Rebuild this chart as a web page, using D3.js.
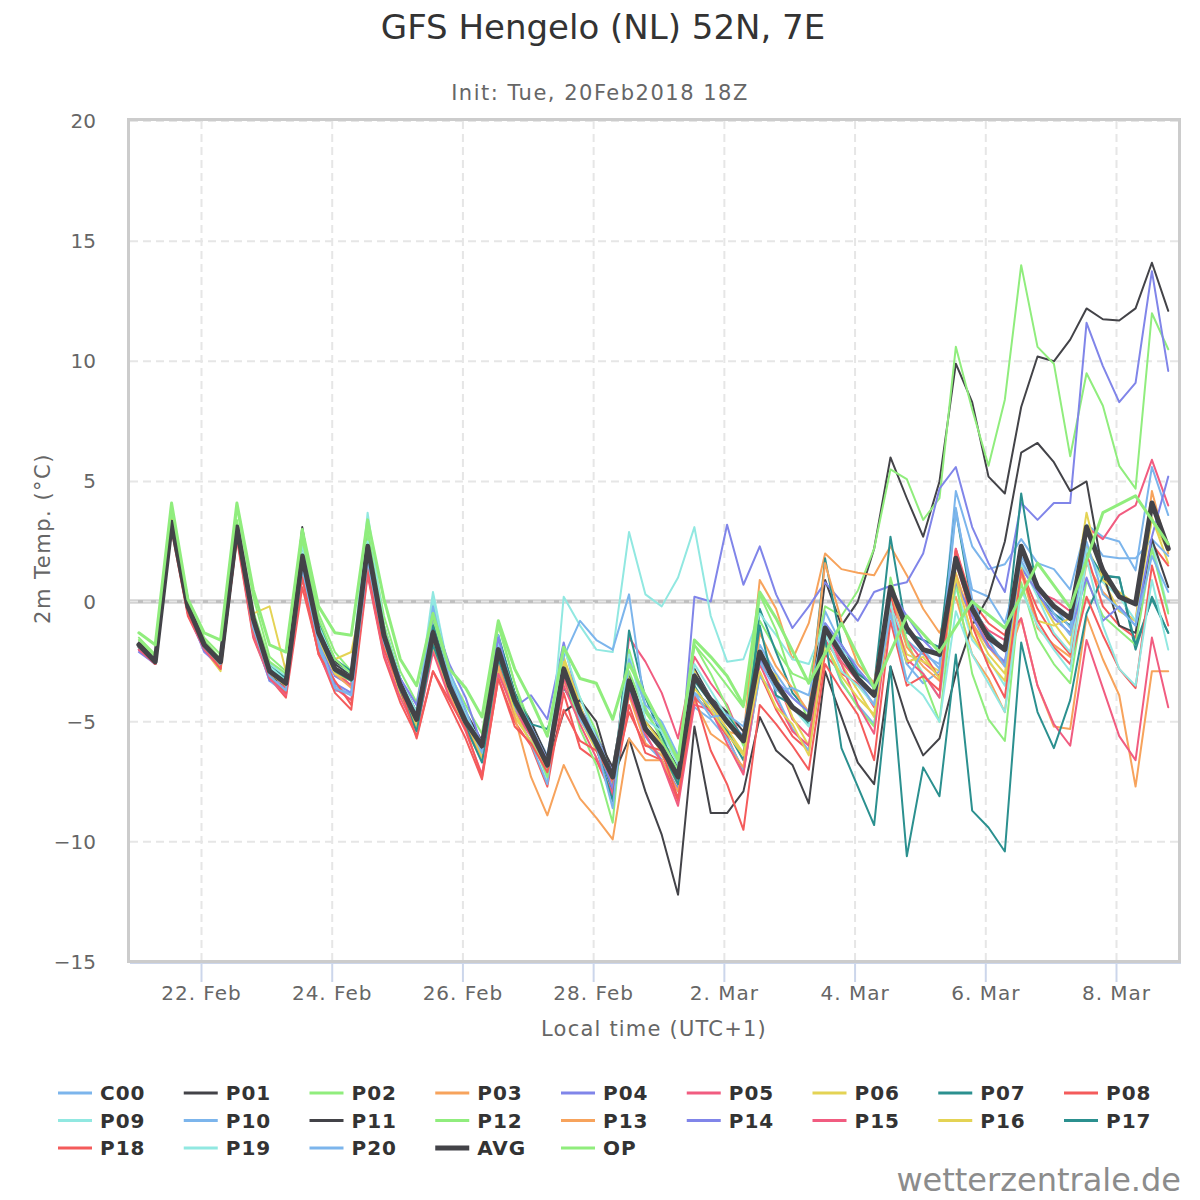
<!DOCTYPE html>
<html>
<head>
<meta charset="utf-8">
<script src="https://cdn.jsdelivr.net/npm/d3@7"></script>
<style>
  body { margin: 0; background: #fff; }
  text { font-family: "DejaVu Sans", Verdana, sans-serif; }
</style>
</head>
<body>
<svg id="chart" width="1200" height="1200"></svg>
<script>
// ---- data (2m temperature, degC, 6-hourly, first value 21 Feb 01:00 local) ----
const memberNames = ['C00','P01','P02','P03','P04','P05','P06','P07','P08','P09','P10',
                     'P11','P12','P13','P14','P15','P16','P17','P18','P19','P20'];

const C00 = [-1.9,-2.6,3.2,-0.3, -1.9,-2.6,3.0,-1.0, -3.1,-3.6,1.5,-1.9, -3.7,-3.8,2.0,-1.7, -3.3,-4.6,-0.8,-3.2, -4.8,-6.1,-1.8,-3.8, -5.1,-6.4,-2.6,-4.5, -5.5,-7.6,-3.5,-5.9, -6.6,-7.9,-3.8,-4.3, -5.5,-6.3,-1.8,-3.0, -4.0,-4.6,-0.4,-1.8, -2.9,-3.6,0.2,-1.6, -2.2,-2.6,4.6,2.3, 1.35,1.55,2.6,1.6, 1.35,0.5,3.2,2.7, 2.5,1.3,5.6,3.6];
const P01 = [-1.7,-2.4,3.4,-0.1, -1.7,-2.4,3.2,-0.6, -2.6,-3.2,3.1,-1.0, -2.5,-3.0,2.4,-1.2, -3.2,-4.6,-1.0,-3.3, -4.6,-5.8,-1.5,-3.8, -5.0,-6.5,-3.2,-4.8, -5.6,-6.9,-3.0,-5.0, -5.8,-6.9,-2.8,-4.0, -4.6,-5.4,-2.3,-3.6, -4.4,-4.8,0.9,-1.0, 0.0,2.2,6.0,4.3, 2.7,5.0,9.9,8.3, 5.2,4.5,8.1,10.2, 10.0,10.9,12.2,11.75, 11.7,12.2,14.1,12.1];
const P02 = [-1.5,-2.2,3.9,0.0, -1.5,-2.2,3.9,0.2, -2.3,-2.9,2.8,-0.5, -2.1,-2.9,3.0,-0.6, -2.9,-4.2,-0.7,-3.0, -4.3,-5.5,-1.0,-3.4, -5.2,-6.6,-2.5,-4.0, -5.4,-7.6,-2.9,-4.6, -5.6,-6.5,-1.8,-2.6, -3.5,-4.4,-0.8,-2.0, -3.0,-3.3,-0.2,-0.6, 0.45,2.2,5.5,5.1, 3.4,4.3,10.6,8.0, 5.65,8.4,14.0,10.6, 9.9,6.05,9.5,8.15, 5.65,4.7,12.0,10.5];
const P03 = [-1.9,-2.4,3.1,-0.4, -1.9,-2.7,2.9,-1.2, -2.8,-3.5,1.4,-1.6, -2.9,-3.5,2.0,-1.7, -3.8,-5.2,-1.9,-3.9, -5.2,-6.4,-2.6,-4.5, -5.3,-6.9,-3.3,-4.9, -6.0,-7.6,-3.9,-5.9, -6.4,-7.6,-3.9,-4.6, -5.4,-5.6,0.9,-0.3, -2.4,-0.9,2.0,1.35, 1.2,1.1,2.3,1.1, -0.3,-1.3,0.2,-2.2, -3.2,-4.6,1.2,-1.1, -1.8,-2.3,1.6,0.4, -0.3,-0.8,4.6,2.0];
const P04 = [-2.0,-2.6,3.3,-0.3, -2.0,-2.6,3.0,-0.9, -3.0,-3.6,1.7,-1.6, -3.1,-3.5,2.1,-1.5, -3.6,-5.1,-1.4,-3.3, -4.7,-6.1,-1.9,-4.4, -3.9,-4.9,-1.7,-4.4, -5.6,-7.1,-3.6,-5.6, -6.6,-7.8,0.2,0.0, 3.2,0.7,2.3,0.3, -1.1,-0.2,0.8,0.0, -0.8,0.4,0.65,0.8, 2.0,4.7,5.6,3.1, 1.6,0.4,4.1,3.4, 4.1,4.1,11.6,9.8, 8.3,9.1,13.75,9.6];
const P05 = [-1.8,-2.5,3.2,-0.3, -1.8,-2.6,3.0,-1.0, -3.0,-3.6,1.6,-1.5, -2.9,-3.5,2.0,-1.7, -3.8,-5.0,-1.7,-3.6, -5.2,-6.6,-2.7,-4.4, -5.6,-7.0,-3.2,-4.9, -6.1,-7.6,-1.5,-2.5, -3.8,-5.7,-2.3,-3.4, -4.3,-5.9,-2.6,-3.2, -4.9,-5.6,-1.3,-2.5, -3.3,-4.4,0.2,-1.6, -2.5,-3.1,1.6,-0.6, -1.8,-2.6,2.2,0.4, 0.1,-0.4,3.1,2.6, 3.6,4.0,5.9,4.0];
const P06 = [-1.9,-2.6,3.1,-0.4, -2.0,-2.9,3.0,-0.5, -0.2,-2.9,1.4,-1.2, -2.4,-2.1,1.2,-1.7, -3.6,-5.1,-1.7,-3.8, -5.3,-6.6,-2.8,-4.8, -5.8,-7.2,-2.3,-4.3, -6.2,-7.7,-3.8,-5.0, -5.9,-6.5,-2.9,-4.3, -5.3,-6.3,-2.5,-3.1, -4.8,-6.0,-1.6,-2.6, -3.7,-4.8,-0.3,-2.2, -2.5,-2.9,1.2,-0.9, -2.2,-3.0,1.6,0.3, -0.9,-1.8,2.3,0.9, -0.4,-0.8,3.5,1.6];
const P07 = [-1.8,-2.5,3.3,-0.1, -1.8,-2.5,3.1,-0.6, -2.7,-3.2,2.4,-0.9, -2.4,-2.9,2.6,-1.0, -3.2,-4.7,-1.0,-3.3, -4.9,-6.1,-1.4,-3.8, -5.1,-5.3,-3.6,-4.6, -6.0,-7.9,-1.2,-4.0, -5.6,-7.1,-3.5,-4.6, -5.4,-6.6,-0.3,-2.1, -3.8,-4.6,1.8,-1.8, -3.0,-3.5,2.7,-1.3, -1.6,-1.9,3.8,-0.2, -1.3,-2.0,4.5,0.3, -0.5,-1.0,2.1,1.1, 1.0,-2.0,0.2,-1.3];
const P08 = [-2.0,-2.6,3.0,-0.6, -2.0,-2.7,2.6,-1.5, -3.2,-4.0,0.6,-2.1, -3.8,-4.5,1.1,-2.3, -4.2,-5.6,-2.9,-4.3, -5.7,-7.4,-3.2,-5.0, -6.0,-7.7,-3.8,-6.1, -6.6,-8.1,-4.3,-6.3, -6.6,-8.3,-4.0,-4.6, -5.6,-7.1,-3.0,-4.5, -5.6,-6.2,-2.2,-3.0, -3.4,-4.3,0.3,-2.6, -2.1,-3.2,2.2,0.0, -0.9,-1.4,1.3,-0.3, -1.4,-2.2,2.0,-0.2, -1.0,-1.5,2.4,1.5];
const P09 = [-1.8,-2.4,3.5,-0.1, -1.8,-2.5,3.3,-0.5, -2.6,-3.1,2.4,-1.0, -2.6,-3.0,3.7,-1.0, -3.2,-4.6,0.4,-3.0, -4.7,-6.0,-1.7,-3.9, -5.5,-7.4,0.2,-1.0, -2.0,-2.1,2.9,0.3, -0.2,1.0,3.1,-0.6, -2.5,-2.4,-0.5,-1.4, -2.4,-2.6,-0.9,-2.0, -2.6,-3.4,-0.2,-1.8, -3.0,-4.0,0.6,-1.6, -2.4,-3.5,1.6,0.2, -1.3,-2.1,2.2,0.8, 0.2,-0.8,2.5,-0.4];
const P10 = [-1.9,-2.6,3.2,-0.4, -1.9,-2.7,2.9,-1.3, -3.3,-3.8,1.3,-1.9, -3.5,-3.9,1.8,-1.8, -3.5,-4.7,0.0,-2.9, -4.5,-6.3,-1.4,-4.5, -5.9,-7.6,-2.3,-0.8, -1.6,-2.0,0.3,-4.5, -5.3,-6.6,-4.4,-4.9, -5.7,-7.0,-3.1,-3.9, -5.3,-6.2,-1.6,-3.4, -4.3,-5.1,-0.3,-2.6, -3.4,-2.9,3.7,0.5, 0.2,-0.9,1.7,0.5, -0.2,-1.1,2.9,1.9, 1.8,1.8,2.6,1.9];
const P11 = [-1.9,-2.6,3.2,-0.3, -1.9,-2.6,2.9,-0.8, -3.1,-3.5,1.7,-1.2, -2.6,-3.1,2.2,-1.3, -3.3,-4.8,-1.2,-3.4, -4.9,-6.2,-2.3,-4.0, -5.3,-6.8,-4.6,-4.1, -5.0,-7.3,-5.7,-7.9, -9.7,-12.2,-5.2,-8.8, -8.8,-7.9,-4.8,-6.2, -6.8,-8.4,-2.9,-4.8, -6.7,-7.6,-2.7,-4.9, -6.4,-5.7,-3.0,-1.0, 0.2,2.5,6.2,6.6, 5.8,4.6,5.0,1.2, -1.0,-1.3,2.6,0.6];
const P12 = [-1.6,-2.3,3.6,-0.1, -1.6,-2.4,3.4,-0.4, -2.5,-3.0,2.6,-0.7, -2.4,-3.0,2.7,-1.0, -3.4,-5.0,-1.4,-3.2, -5.0,-6.0,-0.9,-3.4, -5.6,-7.3,-2.8,-5.3, -6.8,-9.2,-2.0,-4.4, -5.8,-7.0,-1.8,-3.0, -4.4,-6.0,0.3,-1.2, -3.3,-5.0,-1.7,-3.3, -4.4,-5.2,1.0,-1.6, -3.2,-5.0,0.9,-3.0, -4.9,-5.8,0.8,-1.5, -2.6,-3.4,0.9,-0.6, -1.2,-1.8,2.2,-0.5];
const P13 = [-1.9,-2.6,3.1,-0.4, -2.0,-2.7,2.8,-1.1, -2.9,-3.5,1.6,-1.7, -3.0,-3.6,1.8,-1.9, -3.9,-5.3,-1.7,-3.9, -5.1,-6.4,-2.7,-4.8, -7.3,-8.9,-6.8,-8.2, -9.0,-9.9,-5.7,-6.6, -6.6,-7.9,-4.1,-5.5, -6.0,-6.9,-1.3,-2.7, -3.6,-4.6,1.6,-0.8, -2.6,-3.4,0.5,-1.9, -2.7,-3.3,1.1,-0.9, -1.9,-2.7,-0.7,-3.5, -5.2,-5.3,-0.6,-2.4, -3.9,-7.7,-2.9,-2.9];
const P14 = [-2.1,-2.6,3.2,-0.4, -2.1,-2.7,2.9,-1.2, -3.3,-3.4,1.8,-1.5, -3.4,-3.8,2.0,-1.6, -3.2,-4.3,-0.6,-2.6, -4.0,-6.0,-1.5,-4.2, -5.2,-6.6,-2.6,-4.8, -5.9,-7.8,-3.6,-5.4, -6.2,-7.4,-3.0,-4.0, -4.9,-5.6,-2.4,-3.3, -4.0,-4.6,-0.9,-1.8, -2.8,-3.6,0.5,-0.6, -1.6,-2.3,0.8,-0.6, -1.9,-2.5,1.4,0.4, -0.7,-1.3,1.0,-0.8, -0.2,-1.0,2.7,5.2];
const P15 = [-2.0,-2.6,3.1,-0.5, -2.0,-2.8,2.7,-1.4, -3.2,-3.9,1.0,-2.2, -3.6,-4.1,1.2,-2.2, -4.0,-5.4,-2.1,-4.0, -5.4,-7.2,-3.0,-4.6, -5.6,-6.9,-3.5,-5.1, -6.5,-8.0,-3.8,-5.5, -6.7,-8.5,-4.3,-4.5, -5.9,-7.2,-2.6,-4.1, -5.4,-6.0,-1.6,-2.6, -4.3,-5.5,-0.2,-2.4, -3.0,-4.0,2.2,-0.4, -1.2,-1.6,-0.7,-3.5, -5.1,-6.0,-1.6,-3.6, -5.6,-6.6,-1.5,-4.4];
const P16 = [-1.8,-2.5,3.4,-0.2, -1.9,-2.7,3.0,-1.2, -3.0,-3.5,1.8,-1.6, -3.0,-3.3,2.2,-1.6, -3.8,-5.3,-1.5,-3.7, -5.0,-6.4,-2.2,-4.6, -5.9,-7.0,-2.5,-4.9, -6.2,-7.4,-3.2,-5.2, -6.3,-7.6,-3.6,-4.5, -5.5,-6.4,-2.9,-4.4, -5.1,-6.4,-1.7,-3.1, -4.0,-4.7,-0.5,-2.5, -2.3,-3.2,1.0,-1.4, -2.5,-3.3,1.4,-0.8, -1.0,-0.7,3.7,0.9, 0.4,-0.1,3.4,2.1];
const P17 = [-1.9,-2.5,3.2,-0.3, -1.9,-2.6,3.0,-1.0, -2.8,-3.3,1.9,-1.2, -2.9,-3.3,2.1,-1.6, -3.7,-5.4,-1.8,-3.6, -5.2,-6.7,-2.4,-4.3, -5.4,-6.9,-2.9,-4.6, -6.1,-8.3,-3.4,-5.2, -6.2,-7.6,-3.3,-4.2, -4.7,-5.7,-1.0,-3.9, -4.3,-5.1,-1.5,-6.1, -7.7,-9.3,-2.7,-10.6, -6.9,-8.1,-2.2,-8.7, -9.4,-10.4,-1.7,-4.6, -6.1,-4.1,-0.5,1.05, 1.0,-1.8,0.1,-1.3];
const P18 = [-1.9,-2.6,3.1,-0.5, -1.9,-2.8,2.7,-1.2, -3.1,-3.8,1.0,-2.2, -3.3,-4.3,1.4,-2.0, -3.6,-5.7,-2.9,-4.1, -5.3,-7.3,-3.2,-5.2, -5.9,-7.1,-4.5,-5.8, -6.2,-7.4,-4.6,-6.0, -6.2,-8.2,-3.9,-6.2, -7.6,-9.5,-4.3,-5.1, -6.0,-7.0,-2.6,-3.7, -4.7,-6.6,-0.8,-3.5, -3.1,-3.7,2.1,-1.0, -2.7,-4.0,1.3,-0.8, -1.9,-2.6,0.2,-1.4, -2.8,-3.6,1.5,-1.0];
const P19 = [-1.8,-2.5,3.3,-0.3, -1.8,-2.5,3.1,-0.8, -2.7,-3.3,2.0,-1.2, -2.8,-3.1,2.5,-1.2, -3.5,-4.8,0.1,-3.1, -4.8,-5.9,-2.0,-4.2, -5.4,-6.7,-1.9,-4.0, -5.7,-7.2,-2.2,-4.9, -5.4,-6.8,-2.6,-3.7, -4.8,-5.8,-2.0,-3.6, -4.4,-5.2,-1.3,-2.9, -3.5,-4.3,0.0,-3.3, -3.9,-5.0,-0.4,-2.2, -3.4,-4.6,0.5,-1.0, -2.0,-2.9,1.8,-1.0, -2.8,-3.5,0.9,-2.0];
const P20 = [-1.9,-2.5,3.2,-0.2, -1.9,-2.6,3.0,-1.1, -3.1,-3.7,1.4,-1.7, -3.6,-3.9,1.7,-1.7, -3.4,-4.8,-0.2,-3.2, -4.8,-6.3,-1.9,-4.0, -5.2,-6.8,-2.8,-4.9, -6.0,-8.6,-2.4,-4.3, -5.0,-6.4,-3.8,-4.8, -4.7,-5.2,-2.5,-3.7, -3.6,-3.9,-1.0,-2.0, -3.3,-4.3,-0.5,-3.3, -2.0,-2.8,3.9,0.1, -1.6,-2.7,1.9,0.7, -0.5,-1.4,2.5,0.3, -0.3,-1.0,1.9,0.4];

const AVG = [-1.8,-2.5,3.3,-0.2, -1.8,-2.5,3.1,-0.7, -2.9,-3.4,1.9,-1.3, -2.8,-3.2,2.3,-1.4, -3.5,-4.9,-1.3,-3.5, -5.0,-6.0,-2.0,-4.1, -5.4,-6.8,-2.8,-4.6, -5.9,-7.3,-3.3,-5.3, -6.1,-7.3,-3.1,-4.1, -5.0,-5.8,-2.1,-3.4, -4.4,-4.9,-1.1,-2.2, -3.2,-3.9,0.6,-1.1, -2.0,-2.2,1.8,-0.3, -1.5,-2.0,2.3,0.6, -0.2,-0.7,3.1,1.3, 0.2,-0.1,4.1,2.2];
// operational run: 12-hourly after day 10 (null = no value)
const OP = [-1.3,-1.8,4.1,0.1, -1.3,-1.6,4.1,0.5, -1.8,-2.1,3.0,-0.2, -1.3,-1.4,3.4,0.1, -2.4,-3.5,-0.5,-2.8, -3.6,-4.8,-0.8,-2.8, -4.1,-5.6,-1.9,-3.2, -3.4,-4.9,-2.6,-3.9, -5.2,-6.6,-1.6,-2.3, -3.1,-4.3,0.4,-0.7, null,-3.4,null,-0.9, null,-3.6,null,-0.6, null,-2.1,null,0.0, null,-1.1,null,1.6, null,-0.25,null,3.7, null,4.4,null,2.4];

const memberData = [C00,P01,P02,P03,P04,P05,P06,P07,P08,P09,P10,P11,P12,P13,P14,P15,P16,P17,P18,P19,P20];

const yTicks = [20, 15, 10, 5, 0, -5, -10, -15];
const xTickDays = [[1,22],[1,24],[1,26],[1,28],[2,2],[2,4],[2,6],[2,8]]; // [month index, day]
const xTickLabels = ['22. Feb','24. Feb','26. Feb','28. Feb','2. Mar','4. Mar','6. Mar','8. Mar'];
const firstTime = Date.UTC(2018, 1, 21, 1);   // local time, stored as UTC
const stepMs = 6 * 3600 * 1000;

const palette = ['#7cb5ec','#434348','#90ed7d','#f7a35c','#8085e9','#f15c80','#e4d354','#2b908f','#f45b5b','#91e8e1'];

// ---- layout ----
const plot = { left: 130, right: 1178, top: 121, bottom: 962 };

const svg = d3.select('#chart');

const x = d3.scaleUtc()
    .domain([Date.UTC(2018, 1, 22), Date.UTC(2018, 2, 8)])
    .range([201.5, 1116.5]);
const y = d3.scaleLinear()
    .domain([-15, 20])
    .range([plot.bottom, plot.top]);

// title
svg.append('text')
    .attr('x', 603).attr('y', 39)
    .attr('text-anchor', 'middle')
    .style('font-size', '34px').style('fill', '#333')
    .text('GFS Hengelo (NL) 52N, 7E');
svg.append('text')
    .attr('x', 600).attr('y', 100)
    .attr('text-anchor', 'middle')
    .style('font-size', '21px').style('fill', '#666').style('letter-spacing', '1.5px')
    .text('Init: Tue, 20Feb2018 18Z');

// zero plot line (under the grid)
svg.append('line')
    .attr('x1', plot.left).attr('x2', plot.right)
    .attr('y1', y(0)).attr('y2', y(0))
    .attr('stroke', '#c0c0c0').attr('stroke-width', 4);

// grid
const grid = svg.append('g');
grid.selectAll('line.h')
    .data(yTicks)
    .join('line')
    .attr('class', 'h')
    .attr('x1', plot.left).attr('x2', plot.right)
    .attr('y1', d => y(d)).attr('y2', d => y(d))
    .attr('stroke', '#e6e6e6').attr('stroke-width', 2)
    .attr('stroke-dasharray', '8,5');
const tickDates = xTickDays.map(d => new Date(Date.UTC(2018, d[0], d[1])));
grid.selectAll('line.v')
    .data(tickDates)
    .join('line')
    .attr('class', 'v')
    .attr('x1', d => x(d)).attr('x2', d => x(d))
    .attr('y1', plot.top).attr('y2', plot.bottom)
    .attr('stroke', '#e6e6e6').attr('stroke-width', 2)
    .attr('stroke-dasharray', '8,5');

// axis ticks and labels
svg.selectAll('line.xtick')
    .data(tickDates)
    .join('line')
    .attr('class', 'xtick')
    .attr('x1', d => x(d)).attr('x2', d => x(d))
    .attr('y1', plot.bottom + 1).attr('y2', plot.bottom + 20)
    .attr('stroke', '#ccd6eb').attr('stroke-width', 2);
svg.append('line')
    .attr('x1', plot.left).attr('x2', plot.right + 3)
    .attr('y1', plot.bottom + 1.5).attr('y2', plot.bottom + 1.5)
    .attr('stroke', '#ccd6eb').attr('stroke-width', 1);
svg.selectAll('text.xlab')
    .data(tickDates)
    .join('text')
    .attr('class', 'xlab')
    .attr('x', d => x(d)).attr('y', 1000)
    .attr('text-anchor', 'middle')
    .style('font-size', '20px').style('fill', '#666').style('letter-spacing', '1px')
    .text((d, i) => xTickLabels[i]);
svg.selectAll('text.ylab')
    .data(yTicks)
    .join('text')
    .attr('class', 'ylab')
    .attr('x', 96).attr('y', d => y(d) + 7)
    .attr('text-anchor', 'end')
    .style('font-size', '20px').style('fill', '#666')
    .text(d => d < 0 ? '\u2212' + Math.abs(d) : d);

svg.append('text')
    .attr('x', (plot.left + plot.right) / 2).attr('y', 1036)
    .attr('text-anchor', 'middle')
    .style('font-size', '21px').style('fill', '#666').style('letter-spacing', '1.2px')
    .text('Local time (UTC+1)');
svg.append('text')
    .attr('transform', 'translate(50,' + ((plot.top + plot.bottom) / 2 - 3) + ') rotate(-90)')
    .attr('text-anchor', 'middle')
    .style('font-size', '21px').style('fill', '#666').style('letter-spacing', '1.5px')
    .text('2m Temp. (\u00b0C)');

// series
svg.append('clipPath').attr('id', 'plotclip')
    .append('rect')
    .attr('x', plot.left).attr('y', plot.top)
    .attr('width', plot.right - plot.left).attr('height', plot.bottom - plot.top);

const series = memberNames.map((name, i) => ({ name: name, values: memberData[i], color: palette[i % 10], width: 2 }));
series.push({ name: 'AVG', values: AVG, color: '#434348', width: 5 });
series.push({ name: 'OP', values: OP, color: '#90ed7d', width: 3 });

const line = d3.line()
    .x(d => x(new Date(firstTime + d.i * stepMs)))
    .y(d => y(d.v));

svg.append('g')
    .attr('clip-path', 'url(#plotclip)')
    .selectAll('path')
    .data(series)
    .join('path')
    .attr('d', s => line(s.values.map((v, i) => ({ i: i, v: v })).filter(p => p.v !== null)))
    .attr('fill', 'none')
    .attr('stroke', s => s.color)
    .attr('stroke-width', s => s.width)
    .attr('stroke-linejoin', 'round')
    .attr('stroke-linecap', 'round');

// plot border
svg.append('rect')
    .attr('x', 128.5).attr('y', 119.5)
    .attr('width', 1051).attr('height', 842)
    .attr('fill', 'none')
    .attr('stroke', '#cccccc').attr('stroke-width', 3);

// legend: 9 columns
const legend = svg.append('g');
const items = legend.selectAll('g')
    .data(series)
    .join('g')
    .attr('transform', (s, i) => 'translate(' + (58 + (i % 9) * 125.75) + ',' + (1093 + Math.floor(i / 9) * 27.5) + ')');
items.append('line')
    .attr('x1', 0).attr('x2', 34).attr('y1', 0).attr('y2', 0)
    .attr('stroke', s => s.color)
    .attr('stroke-width', s => s.name === 'AVG' ? 5 : 3);
items.append('text')
    .attr('x', 42).attr('y', 7)
    .style('font-size', '20px').style('font-weight', 'bold').style('fill', '#333')
    .style('letter-spacing', '1px')
    .text(s => s.name);

// watermark
svg.append('text')
    .attr('x', 1181).attr('y', 1191)
    .attr('text-anchor', 'end')
    .style('font-size', '32px').style('fill', '#8c8c8c')
    .text('wetterzentrale.de');
</script>
</body>
</html>
